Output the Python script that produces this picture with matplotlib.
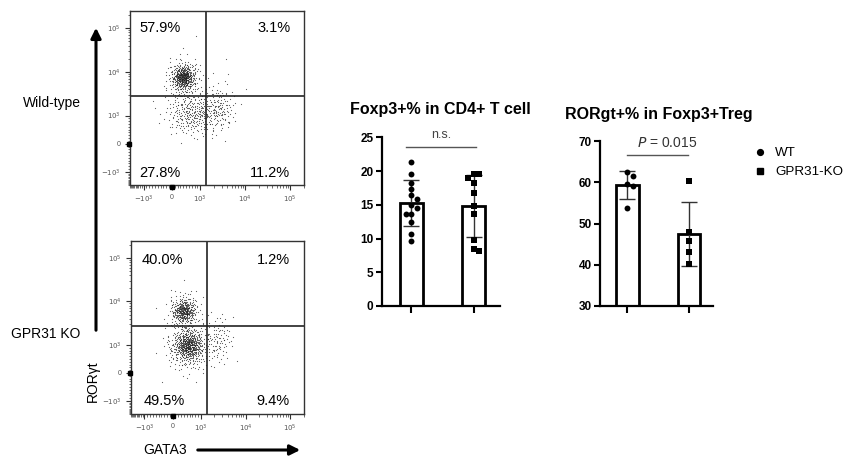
import numpy as np
import matplotlib
matplotlib.use("Agg")
import matplotlib.pyplot as plt
from matplotlib.lines import Line2D

plt.rcParams['font.family'] = ['Liberation Sans', 'DejaVu Sans']
plt.rcParams['mathtext.fontset'] = 'dejavusans'

# ---------------- data ----------------
groups = ["WT", "GPR31-KO"]
foxp3_wt = [21.4, 19.6, 18.3, 17.4, 16.5, 15.8, 15.0, 14.5, 13.7, 13.7, 12.4, 10.6, 9.7]
foxp3_ko = [19.5, 19.6, 19.0, 18.3, 16.8, 14.8, 13.6, 9.8, 8.2, 8.4]
rorgt_wt = [62.4, 61.4, 59.5, 59.2, 53.7]
rorgt_ko = [60.4, 48.0, 45.8, 43.2, 40.1]
foxp3_title = "Foxp3+% in CD4+ T cell"
rorgt_title = "RORgt+% in Foxp3+Treg"
foxp3_stat = "n.s."
rorgt_stat = r"$\it{P}$ = 0.015"

# flow quadrant percentages: UL, UR, LL, LR
flow_wt_pct = ["57.9%", "3.1%", "27.8%", "11.2%"]
flow_ko_pct = ["40.0%", "1.2%", "49.5%", "9.4%"]
flow_ticks = [-1e3, 0, 1e3, 1e4, 1e5]
flow_ticklabels = [r"$-10^{3}$", "0", r"$10^{3}$", r"$10^{4}$", r"$10^{5}$"]
gate_x = 1350
gate_y = 2800
# event clouds (centre x, centre y in data units, spread x/y in decades, events)
wt_cloud_cx = [400, 400, 750, 2700, 1500]
wt_cloud_cy = [7600, 7000, 1100, 1400, 5000]
wt_cloud_sx = [0.11, 0.18, 0.30, 0.18, 0.35]
wt_cloud_sy = [0.12, 0.22, 0.24, 0.24, 0.40]
wt_cloud_n = [300, 230, 300, 110, 20]
ko_cloud_cx = [400, 400, 550, 550, 2450]
ko_cloud_cy = [6000, 6000, 1000, 900, 1300]
ko_cloud_sx = [0.12, 0.18, 0.15, 0.24, 0.16]
ko_cloud_sy = [0.12, 0.22, 0.16, 0.26, 0.28]
ko_cloud_n = [220, 180, 350, 300, 90]

# ---------------- figure ----------------
W, H = 847, 457
fig = plt.figure(figsize=(W / 100, H / 100), dpi=100)


def px_axes(x0, y0, x1, y1):
    return fig.add_axes([x0 / W, 1 - y1 / H, (x1 - x0) / W, (y1 - y0) / H])


def halton(i, b):
    f, r = 1.0, 0.0
    while i > 0:
        f /= b
        r += f * (i % b)
        i //= b
    return r


def flow_panel(ax, pcts, cx, cy, sx, sy, nn, pct_pos):
    ax.set_xscale('symlog', linthresh=1000, linscale=0.57)
    ax.set_yscale('symlog', linthresh=1000, linscale=0.58)
    ax.set_xlim(-2000, 2.05e5)
    ax.set_ylim(-1780, 2.47e5)
    tx = ax.xaxis.get_transform()
    ty = ax.yaxis.get_transform()
    itx, ity = tx.inverted(), ty.inverted()
    xs, ys = [], []
    k = 1
    for x0, y0, gx, gy, n in zip(cx, cy, sx, sy, nn):
        X0 = tx.transform(np.array([x0]))[0]
        Y0 = ty.transform(np.array([y0]))[0]
        for i in range(n):
            u1 = halton(k, 2)
            u2 = halton(k, 3)
            k += 1
            u1 = min(max(u1, 1e-4), 1 - 1e-4)
            r = np.sqrt(-2 * np.log(u1))
            xs.append(X0 + r * np.cos(2 * np.pi * u2) * gx * 1000)
            ys.append(Y0 + r * np.sin(2 * np.pi * u2) * gy * 1000)
    xd = itx.transform(np.array(xs))
    yd = ity.transform(np.array(ys))
    ax.scatter(xd, yd, s=0.7, c='#222222', linewidths=0, alpha=0.75, zorder=1)
    ax.axvline(gate_x, color='#222222', lw=1.2, zorder=2)
    ax.axhline(gate_y, color='#222222', lw=1.2, zorder=2)
    ax.set_xticks(flow_ticks)
    ax.set_xticklabels(flow_ticklabels)
    ax.set_yticks(flow_ticks)
    ax.set_yticklabels(flow_ticklabels)
    minors = list(np.arange(-2000, 1001, 100)) + \
        [m * d for d in (1e3, 1e4, 1e5) for m in range(2, 10) if m * d < 2.05e5]
    ax.set_xticks(minors, minor=True)
    ax.set_yticks(minors, minor=True)
    ax.tick_params(which='major', length=3.5, width=0.8, labelsize=5,
                   labelcolor='#555555', color='#333333', pad=3)
    ax.tick_params(which='minor', length=1.8, width=0.5, color='#333333')
    for s in ax.spines.values():
        s.set_linewidth(1.0)
        s.set_color('#333333')
    (x1, y1), (x2, y2), (x3, y3), (x4, y4) = pct_pos
    ax.text(x1, y1, pcts[0], transform=ax.transAxes, ha='center', va='center', fontsize=10.5)
    ax.text(x2, y2, pcts[1], transform=ax.transAxes, ha='right', va='center', fontsize=10.5)
    ax.text(x3, y3, pcts[2], transform=ax.transAxes, ha='center', va='center', fontsize=10.5)
    ax.text(x4, y4, pcts[3], transform=ax.transAxes, ha='right', va='center', fontsize=10.5)
    # pile-up of events on the axes at zero
    ax.plot([-0.008], [0], transform=ax.get_yaxis_transform(), marker='s', ms=2.4,
            color='black', clip_on=False, zorder=5)
    ax.plot([0], [-0.01], transform=ax.get_xaxis_transform(), marker='s', ms=2.4,
            color='black', clip_on=False, zorder=5)


ax1 = px_axes(130, 11, 304, 185)
flow_panel(ax1, flow_wt_pct, wt_cloud_cx, wt_cloud_cy, wt_cloud_sx, wt_cloud_sy, wt_cloud_n,
           [(0.172, 0.902), (0.925, 0.902), (0.172, 0.069), (0.922, 0.069)])
ax2 = px_axes(131, 241, 304, 414)
flow_panel(ax2, flow_ko_pct, ko_cloud_cx, ko_cloud_cy, ko_cloud_sx, ko_cloud_sy, ko_cloud_n,
           [(0.182, 0.89), (0.919, 0.89), (0.19, 0.075), (0.919, 0.075)])

# left annotations
fig.text(51.5 / W, 1 - 103 / H, "Wild-type", ha='center', va='center', fontsize=10)
fig.text(46 / W, 1 - 334 / H, "GPR31 KO", ha='center', va='center', fontsize=10)
fig.text(93 / W, 1 - 381 / H, "ROR\u03b3t", ha='center', va='center', fontsize=10, rotation=90)
fig.text(165 / W, 1 - 450 / H, "GATA3", ha='center', va='center', fontsize=10)
fig.add_artist(matplotlib.patches.FancyArrowPatch(
    (96 / W, 1 - 333 / H), (96 / W, 1 - 25 / H), transform=fig.transFigure,
    arrowstyle='-|>,head_length=6,head_width=3', lw=2.2, color='black', mutation_scale=1))
fig.add_artist(matplotlib.patches.FancyArrowPatch(
    (195 / W, 1 - 450 / H), (303 / W, 1 - 450 / H), transform=fig.transFigure,
    arrowstyle='-|>,head_length=6,head_width=3', lw=2.2, color='black', mutation_scale=1))


def bar_panel(ax, wt, ko, ylim, yticks, width):
    ax.set_xlim(ax.get_xlim())
    means = [np.mean(wt), np.mean(ko)]
    sds = [np.std(wt, ddof=1), np.std(ko, ddof=1)]
    ax.bar([0, 1], means, width=width, color='white', edgecolor='black', linewidth=2.0, zorder=1)
    ax.errorbar([0, 1], means, yerr=sds, fmt='none', ecolor='#333333', elinewidth=1.0,
                capsize=6, capthick=1.0, zorder=3)
    ax.set_ylim(*ylim)
    ax.set_yticks(yticks)
    ax.set_xticks([0, 1])
    ax.set_xticklabels([])
    ax.spines['top'].set_visible(False)
    ax.spines['right'].set_visible(False)
    for s in ('left', 'bottom'):
        ax.spines[s].set_linewidth(1.6)
    ax.tick_params(axis='y', length=4, width=1.5, labelsize=8.5, pad=2)
    ax.tick_params(axis='x', length=5, width=1.5)
    for lab in ax.get_yticklabels():
        lab.set_fontweight('bold')
    # swarm placement of points in display space
    inv = ax.transData.inverted()
    for xc, vals, mk, ms in ((0, wt, 'o', 18), (1, ko, 's', 15)):
        placed = []
        order = np.argsort(vals)[::-1]
        d = 5.6
        for idx in order:
            v = vals[idx]
            X, Y = ax.transData.transform((xc, v))
            for step in [0, 1, -1, 2, -2, 3, -3]:
                cand = X + step * d
                if all((cand - px) ** 2 + (Y - py) ** 2 >= d * d for px, py in placed):
                    break
            placed.append((cand, Y))
            xd, _ = inv.transform((cand, Y))
            ax.scatter([xd], [v], marker=mk, s=ms, color='black', zorder=4, linewidths=0)


ax3 = px_axes(381.7, 137.3, 500, 306)
ax3.set_xlim(-0.474, 1.42)
bar_panel(ax3, foxp3_wt, foxp3_ko, (0, 25), [0, 5, 10, 15, 20, 25], 0.37)
ax3.plot([-0.085, 1.04], [23.5, 23.5], color='#555555', lw=1.0, clip_on=False)
ax3.text(0.48, 25.3, foxp3_stat, ha='center', va='center', fontsize=9, color='#444444')
ax3.text(0.5, 1 + 23 / 168.7, foxp3_title, transform=ax3.transAxes, ha='center',
         va='baseline', fontsize=11.5, fontweight='bold')

ax4 = px_axes(600, 141, 713, 306)
ax4.set_xlim(-0.447, 1.39)
bar_panel(ax4, rorgt_wt, rorgt_ko, (30, 70), [30, 40, 50, 60, 70], 0.366)
ax4.plot([0.0, 0.985], [66.7, 66.7], color='#555555', lw=1.0, clip_on=False)
ax4.text(0.64, 69.5, rorgt_stat, ha='center', va='center', fontsize=10, color='#333333')
ax4.text((565 - 600) / 113, 1 + 22 / 165, rorgt_title, transform=ax4.transAxes, ha='left',
         va='baseline', fontsize=11.5, fontweight='bold')

handles = [Line2D([], [], marker='o', ls='none', color='black', ms=4.2),
           Line2D([], [], marker='s', ls='none', color='black', ms=3.8)]
fig.legend(handles, groups, loc='upper left', bbox_to_anchor=(753 / W, 1 - 147 / H),
           frameon=False, fontsize=9.6, handlelength=1.05, handletextpad=0.6,
           labelspacing=0.5, borderpad=0, borderaxespad=0)

fig.savefig("out.png", dpi=100)
